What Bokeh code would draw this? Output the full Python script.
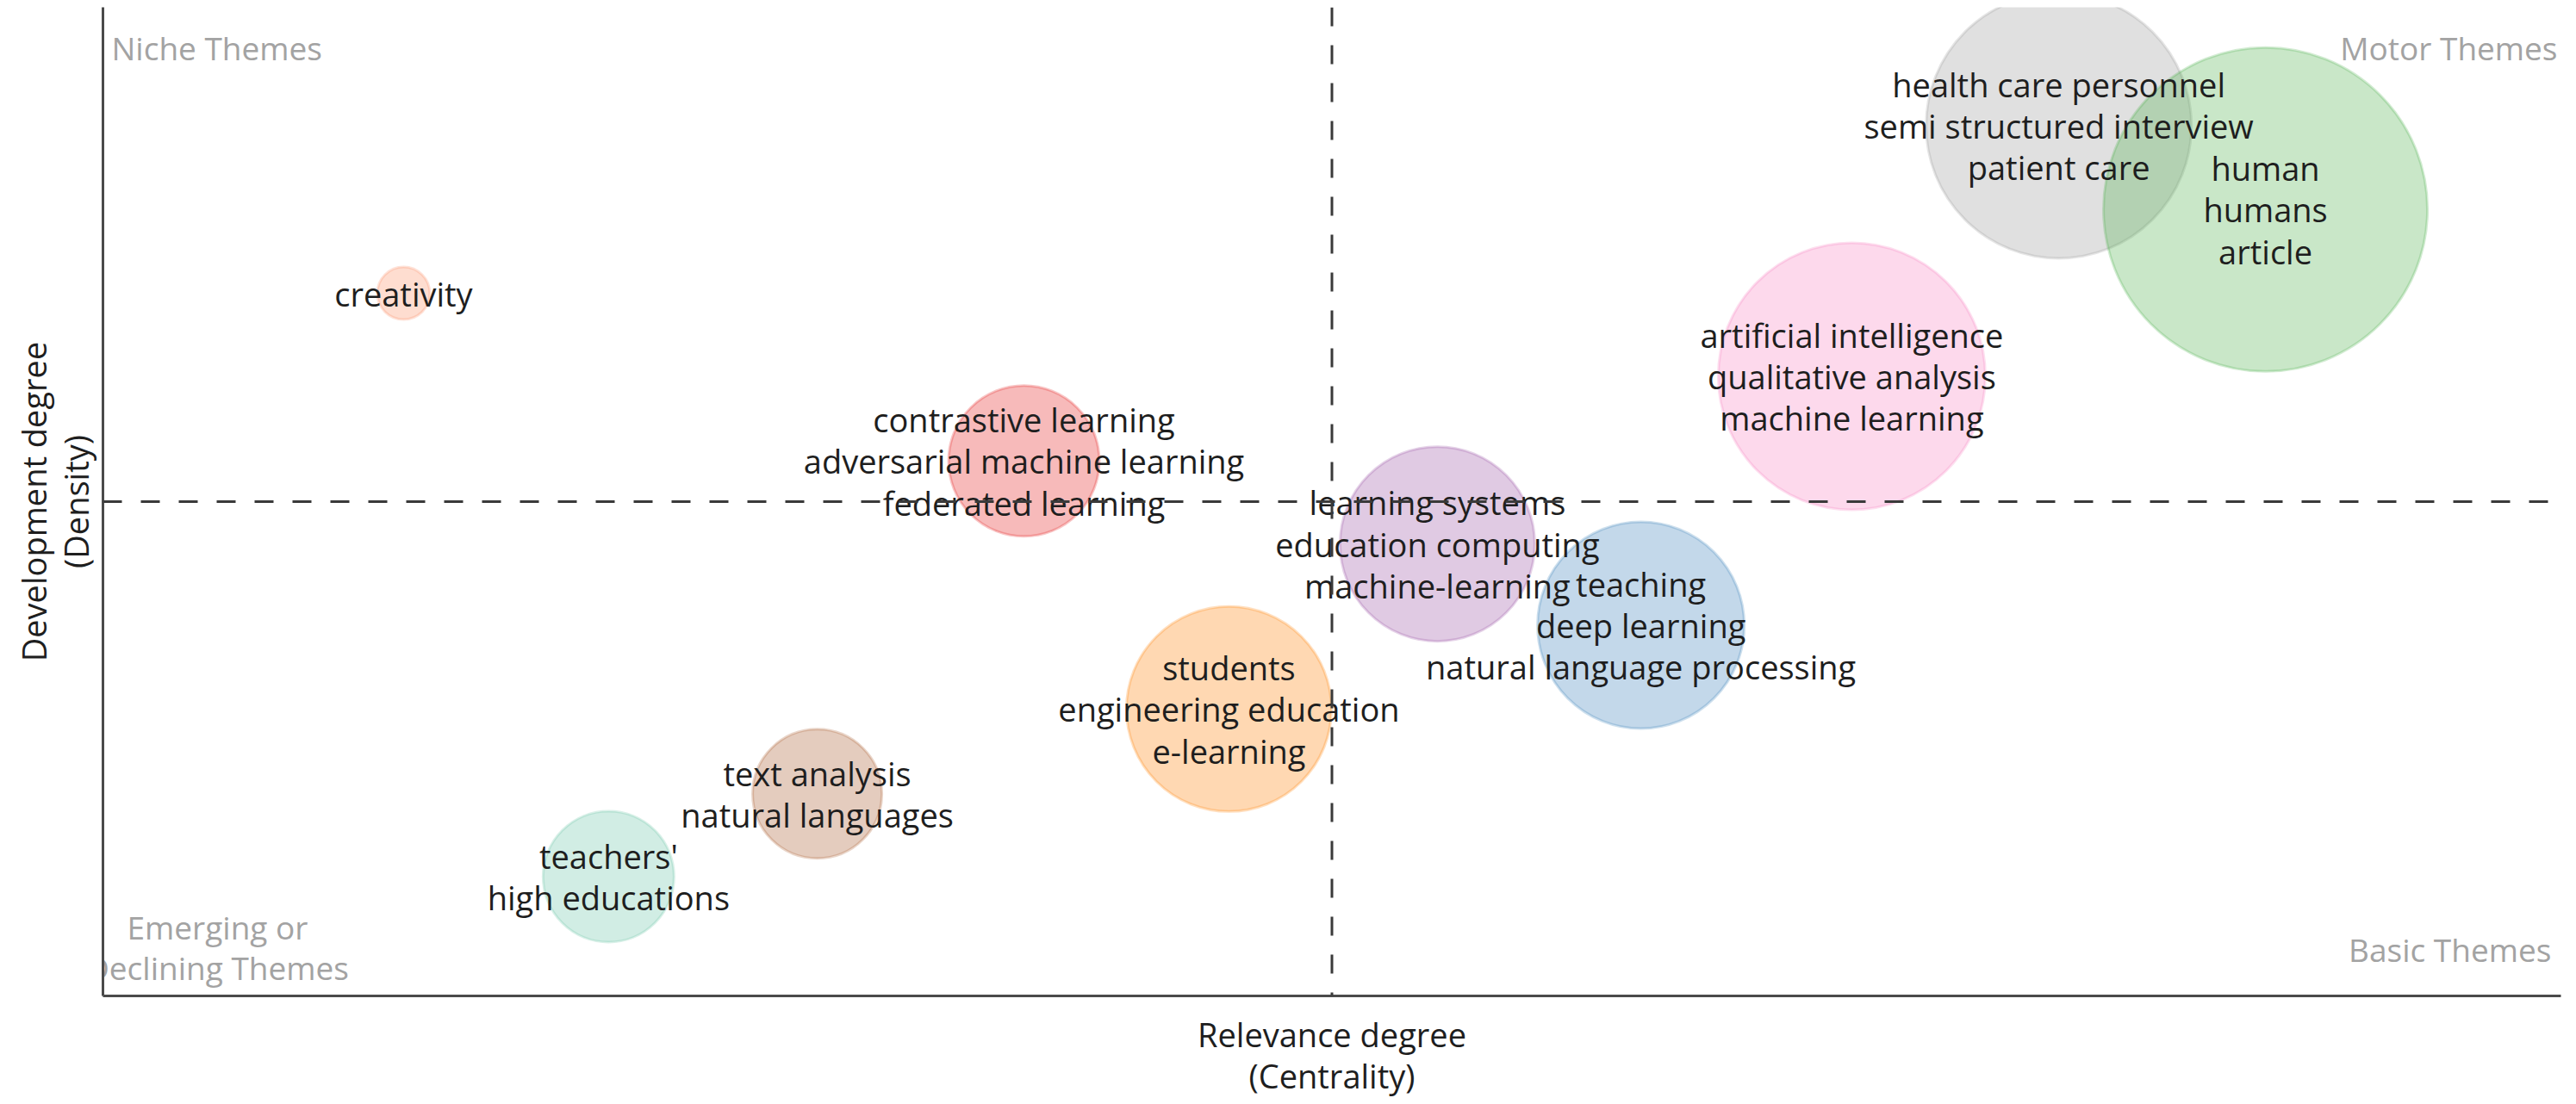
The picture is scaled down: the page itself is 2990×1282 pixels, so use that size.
from bokeh.plotting import figure
from bokeh.models import ColumnDataSource, Span, FixedTicker, Range1d
from bokeh.core.properties import value
from bokeh.embed import file_html
from bokeh.resources import INLINE

# ---- data (normalized centrality / density) ----
theme_labels = [
    "creativity",
    "contrastive learning\nadversarial machine learning\nfederated learning",
    "learning systems\neducation computing\nmachine-learning",
    "teaching\ndeep learning\nnatural language processing",
    "students\nengineering education\ne-learning",
    "text analysis\nnatural languages",
    "teachers'\nhigh educations",
    "artificial intelligence\nqualitative analysis\nmachine learning",
    "health care personnel\nsemi structured interview\npatient care",
    "human\nhumans\narticle",
]
centrality = [0.1223, 0.3747, 0.5429, 0.6257, 0.4581, 0.2906, 0.2057, 0.7115, 0.7957, 0.8798]
density = [0.7107, 0.5411, 0.4572, 0.3750, 0.2902, 0.2045, 0.1206, 0.6268, 0.8802, 0.7955]
cluster_size = [61, 175, 226, 240, 238, 150, 152, 310, 308, 376]
colors = ["#fc8d62", "#e41a1c", "#984ea3", "#377eb8", "#ff7f00",
          "#a65628", "#66c2a5", "#f781bf", "#999999", "#4daf4a"]

centrality_median = 0.5
density_median = 0.5

quadrant_names = ["Niche Themes", "Motor Themes", "Emerging or\nDeclining Themes", "Basic Themes"]

src = ColumnDataSource(dict(x=centrality, y=density, label=theme_labels,
                            size=cluster_size, color=colors))

p = figure(frame_width=2853, frame_height=1148, output_backend="svg", toolbar_location=None,
           x_range=Range1d(0, 1), y_range=Range1d(0, 1),
           min_border_left=119, min_border_right=5, min_border_top=8,
           min_border_bottom=116)
p.outline_line_color = None
p.xgrid.visible = False
p.ygrid.visible = False
p.background_fill_color = "white"

for ax in (p.xaxis[0], p.yaxis[0]):
    ax.ticker = FixedTicker(ticks=[])
    ax.major_tick_line_color = None
    ax.minor_tick_line_color = None
    ax.major_tick_out = 0
    ax.major_tick_in = 0
    ax.axis_line_color = "#4a4a4a"
    ax.axis_line_width = 3
    ax.axis_label_text_font = "Open Sans"
    ax.axis_label_text_font_size = "38px"
    ax.axis_label_text_font_style = "normal"
    ax.axis_label_text_color = "#1e1e1e"
    ax.axis_label_text_line_height = 0.93

p.xaxis.axis_label = "Relevance degree\n(Centrality)"
p.yaxis.axis_label = "Development degree\n(Density)"
p.xaxis.axis_label_standoff = 18
p.yaxis.axis_label_standoff = 6

p.scatter("x", "y", size="size", source=src, fill_color="color", fill_alpha=0.3,
          line_color="color", line_alpha=0.25, line_width=3)

p.add_layout(Span(location=centrality_median, dimension="height", line_color="#3a3a3a",
                  line_width=3, line_dash="22 22"))
p.add_layout(Span(location=density_median, dimension="width", line_color="#3a3a3a",
                  line_width=3, line_dash="22 22"))

p.text("x", "y", text="label", source=src, text_align="center", text_baseline="middle",
       text_font=value("Open Sans"), text_font_size="38px", text_color="#1e1e1e",
       text_line_height=0.93)

qsrc = ColumnDataSource(dict(x=[0.0035, 0.9986, 0.0466, 0.9961],
                             y=[0.959, 0.959, 0.049, 0.047],
                             t=quadrant_names,
                             align=["left", "right", "center", "right"]))
p.text("x", "y", text="t", source=qsrc, text_align="align", text_baseline="middle",
       text_font=value("Open Sans"), text_font_size="37px", text_color="#a3a3a3",
       text_line_height=0.93)

open("out.html", "w").write(file_html(p, INLINE))
